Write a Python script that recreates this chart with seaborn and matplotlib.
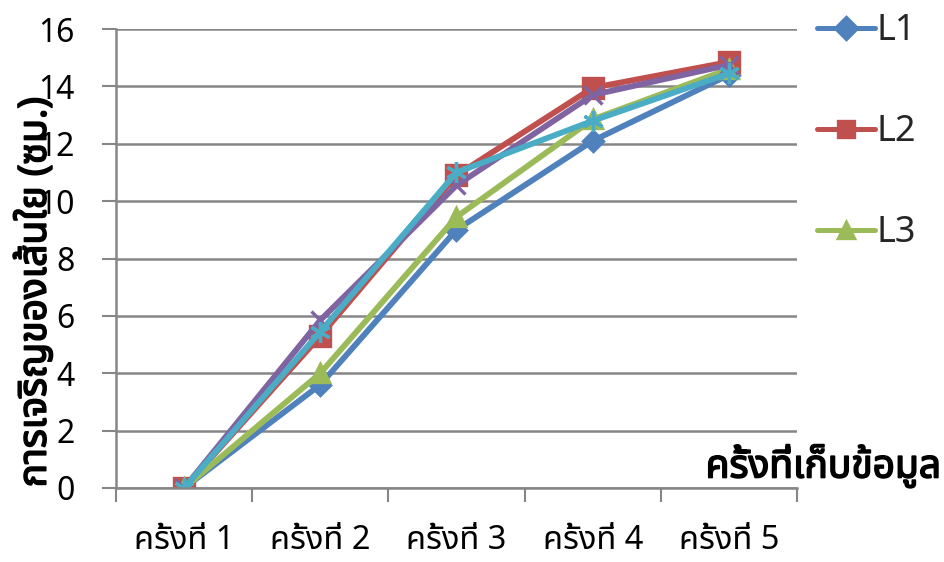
import numpy as np
import pandas as pd
import matplotlib
matplotlib.use("Agg")
import matplotlib.pyplot as plt
import matplotlib.patheffects as pe
import seaborn as sns
from matplotlib import font_manager
from matplotlib.ft2font import FT2Font

# ---- data -------------------------------------------------------------
rounds = ["ครั้งที่ 1", "ครั้งที่ 2", "ครั้งที่ 3", "ครั้งที่ 4", "ครั้งที่ 5"]
series_names = ["L1", "L2", "L3", "L4", "L5"]
L1 = [0.0, 3.6, 9.0, 12.1, 14.4]
L2 = [0.0, 5.3, 10.9, 13.95, 14.85]
L3 = [0.0, 4.0, 9.45, 12.85, 14.6]
L4 = [0.0, 5.85, 10.55, 13.7, 14.75]
L5 = [0.0, 5.45, 11.0, 12.8, 14.45]
y_ticks = [0, 2, 4, 6, 8, 10, 12, 14, 16]
y_title = "การเจริญของเส้นใย (ซม.)"
x_title = "ครั้งที่เก็บข้อมูล"

colors = ["#4F81BD", "#C0504D", "#9BBB59", "#8064A2", "#4BACC6"]
markers = ["D", "s", "^", "x", (6, 2, 0)]
msizes = [10.5, 14, 13.5, 13, 15]


def thai_families():
    """Installed font families that contain Thai glyphs."""
    found = []
    for f in font_manager.fontManager.ttflist:
        try:
            cmap = FT2Font(f.fname).get_charmap()
        except Exception:
            continue
        if ord("ก") in cmap and ord("1") in cmap and f.name not in found:
            found.append(f.name)
    prefer = ["Leelawadee UI", "Noto Sans Thai UI", "Noto Sans Thai", "Noto Sans Thai Looped",
              "Sarabun", "Tlwg Typo", "Loma", "Garuda", "Norasi"]
    found.sort(key=lambda n: prefer.index(n) if n in prefer else len(prefer))
    return found


sns.set_theme(style="white")
thai = thai_families()
base = ["Open Sans", "Noto Sans", "DejaVu Sans"]
plt.rcParams["font.family"] = thai[:1] + base

df = pd.DataFrame({
    "idx": np.tile(np.arange(len(rounds)), len(series_names)),
    "value": L1 + L2 + L3 + L4 + L5,
    "series": np.repeat(series_names, len(rounds)),
})

fig = plt.figure(figsize=(9.45, 5.62), dpi=100)
ax = fig.add_axes([116 / 945, 1 - 488 / 562, (797 - 116) / 945, (488 - 29) / 562])

sns.lineplot(data=df, x="idx", y="value", hue="series",
             palette=dict(zip(series_names, colors)),
             marker="o", linewidth=4.2, legend=False, ax=ax)

for line, c, m, ms in zip(ax.lines, colors, markers, msizes):
    line.set_marker(m)
    line.set_markersize(ms)
    line.set_markerfacecolor(c)
    line.set_markeredgecolor(c)
    line.set_markeredgewidth(2.4)
    line.set_solid_capstyle("round")
    line.set_solid_joinstyle("round")

ax.set_xlim(-0.5, len(rounds) - 0.5)
ax.set_ylim(0, 16)
ax.set_xlabel("")
ax.set_ylabel("")

grid_c = "#868686"
ax.set_yticks(y_ticks)
ax.set_yticklabels([str(v) for v in y_ticks])
ax.yaxis.grid(True, color=grid_c, linewidth=1.8)
ax.xaxis.grid(False)
ax.set_axisbelow(True)

# category boundaries carry the tick marks, centres carry the labels
ax.set_xticks(np.arange(-0.5, len(rounds)))
ax.set_xticklabels([])
ax.set_xticks(np.arange(len(rounds)), minor=True)
ax.set_xticklabels(rounds, minor=True)
ax.tick_params(axis="x", which="major", length=10, width=1.5, color=grid_c, direction="out")
ax.tick_params(axis="x", which="minor", length=0, pad=26, labelsize=23.5, labelcolor="black")
ax.tick_params(axis="y", length=10, width=1.5, color=grid_c, direction="out", pad=20,
               labelsize=23, labelcolor="black")
ax.tick_params(bottom=True, left=True)

for s in ["top", "right"]:
    ax.spines[s].set_visible(False)
for s in ["left", "bottom"]:
    ax.spines[s].set_color(grid_c)
    ax.spines[s].set_linewidth(1.8)

# axis titles, thickened with a stroke of the same colour
bold = [pe.withStroke(linewidth=1.2, foreground="black")]
fig.text(35 / 945, 1 - 292 / 562, y_title, rotation=90, ha="center", va="center",
         fontsize=28, fontweight="bold", color="black", path_effects=bold)
fig.text(941 / 945, 1 - 466 / 562, x_title, ha="right", va="center",
         fontsize=28, fontweight="bold", color="black", path_effects=bold)

# legend (first three series)
handles = ax.lines[:3]
leg = fig.legend(handles, series_names[:3], loc="upper left",
                 bbox_to_anchor=(792 / 945, 1 + 12 / 562), frameon=False,
                 fontsize=26, labelspacing=1.8, handlelength=1.6, handletextpad=0.05,
                 borderpad=0.2)
for h in leg.legend_handles:
    h.set_markersize(11)
    h.set_linewidth(3.6)

fig.savefig("out.png", dpi=100)
